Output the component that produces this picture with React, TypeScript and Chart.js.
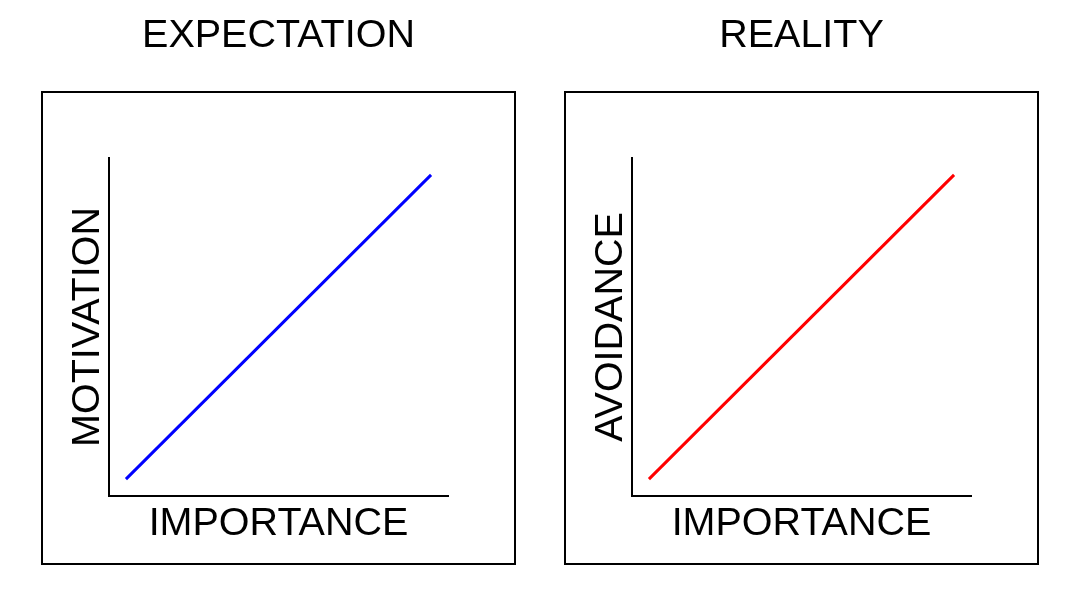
import React, { useEffect, useRef } from "react";
import { Chart, registerables } from "chart.js";

Chart.register(...registerables);

// ---- data ----
const panelTitles = ["EXPECTATION", "REALITY"];
const xAxisLabels = ["IMPORTANCE", "IMPORTANCE"];
const yAxisLabels = ["MOTIVATION", "AVOIDANCE"];
const importance = [0.05, 0.95];
const motivation = [0.05, 0.95];
const avoidance = [0.05, 0.95];
const seriesValues = [motivation, avoidance];
const seriesColors = ["#0000ff", "#ff0000"];

const FONT = "'Liberation Sans', Arial, Helvetica, sans-serif";
const CANVAS_W = 523;
const CANVAS_H = 590;

const framePlugin = {
  id: "frame",
  beforeDraw(chart: any, _args: any, opts: any) {
    const { ctx, chartArea } = chart;
    ctx.save();
    ctx.strokeStyle = opts.color || "#000";
    ctx.lineWidth = opts.width || 2;
    const l = chartArea.left - opts.left;
    const t = chartArea.top - opts.top;
    const r = chartArea.right + opts.right;
    const b = chartArea.bottom + opts.bottom;
    ctx.strokeRect(l, t, r - l, b - t);
    ctx.restore();
  },
};

function Panel({ index, left }: { index: number; left: number }) {
  const ref = useRef<HTMLCanvasElement | null>(null);
  useEffect(() => {
    if (!ref.current) return;
    const data = importance.map((x, i) => ({ x, y: seriesValues[index][i] }));
    const chart = new Chart(ref.current, {
      type: "line",
      data: {
        datasets: [
          {
            data,
            borderColor: seriesColors[index],
            borderWidth: 3,
            pointRadius: 0,
            fill: false,
            tension: 0,
          },
        ],
      },
      options: {
        responsive: false,
        animation: false,
        devicePixelRatio: 1,
        layout: { padding: { left: 68.5, right: CANVAS_W - 448, top: 16.25, bottom: 45.75 } },
        plugins: {
          legend: { display: false },
          tooltip: { enabled: false },
          title: {
            display: true,
            text: panelTitles[index],
            color: "#000",
            fullSize: false,
            font: { family: FONT, size: 39.5, weight: "normal", lineHeight: 1 },
            padding: { top: 0, bottom: 102.25 },
          },
          frame: { left: 67, top: 66, right: 67, bottom: 68, width: 2, color: "#000" },
        } as any,
        scales: {
          x: {
            type: "linear",
            min: 0,
            max: 1,
            grid: { display: false, drawTicks: false },
            ticks: { display: false },
            border: { display: true, color: "#000", width: 2 },
            title: {
              display: true,
              text: xAxisLabels[index],
              color: "#000",
              font: { family: FONT, size: 39.5, weight: "normal", lineHeight: 1 },
              padding: { top: 8.75, bottom: 0 },
            },
          },
          y: {
            type: "linear",
            min: 0,
            max: 1,
            grid: { display: false, drawTicks: false },
            ticks: { display: false },
            border: { display: true, color: "#000", width: 2 },
            title: {
              display: true,
              text: yAxisLabels[index],
              color: "#000",
              font: { family: FONT, size: 39.5, weight: "normal", lineHeight: 1 },
              padding: { top: 0, bottom: 1 },
            },
          },
        },
      },
      plugins: [framePlugin],
    });
    return () => chart.destroy();
  }, [index]);
  return (
    <canvas
      ref={ref}
      width={CANVAS_W}
      height={CANVAS_H}
      style={{ position: "absolute", left, top: 0, width: CANVAS_W, height: CANVAS_H }}
    />
  );
}

export default function App() {
  return (
    <div
      style={{
        position: "absolute",
        left: 0,
        top: 0,
        width: 1080,
        height: 590,
        background: "#fff",
        overflow: "hidden",
      }}
    >
      <Panel index={0} left={0} />
      <Panel index={1} left={523} />
    </div>
  );
}
